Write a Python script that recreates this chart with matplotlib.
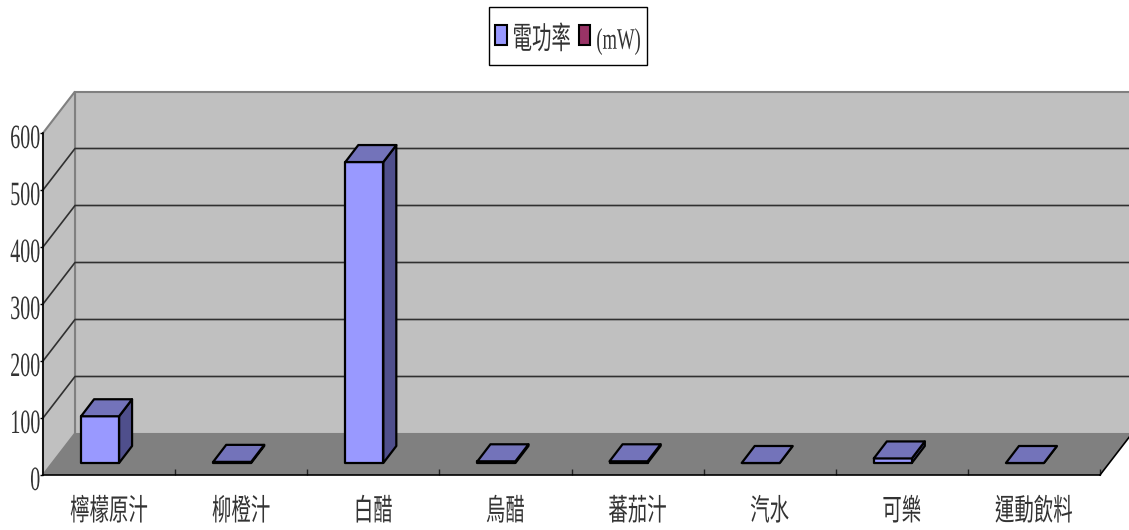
import matplotlib
matplotlib.use('Agg')
import matplotlib.pyplot as plt
from matplotlib.patches import Patch, Polygon, Rectangle
from matplotlib.patheffects import AbstractPathEffect
from matplotlib.transforms import Affine2D

plt.rcParams['font.family'] = ['Noto Sans CJK TC', 'DejaVu Sans']

categories = ['檸檬原汁', '柳橙汁', '白醋', '烏醋', '蕃茄汁', '汽水', '可樂', '運動飲料']
power = [82, 2, 528, 3, 3, 0, 8, 0]
series_names = ['電功率', '(mW)']
y_ticks = [0, 100, 200, 300, 400, 500, 600]

W, H = 1129, 530
px_x = 1057 / 8     # pixels per category
px_y = 342 / 600    # pixels per unit


class TallText(AbstractPathEffect):
    # the original font is a squeezed one, so stretch the glyphs upward
    def __init__(self, sy, dy=0):
        super().__init__()
        self.sy = sy
        self.dy = dy

    def draw_path(self, renderer, gc, tpath, affine, rgbFace=None):
        stretched = Affine2D().scale(1, self.sy) + affine + Affine2D().translate(0, self.dy)
        renderer.draw_path(gc, tpath, stretched, rgbFace)


def shift(x, y, dx_px, dy_px):
    # move a data point back into the 3d box, offset given in pixels
    return x + dx_px / px_x, y + dy_px / px_y


fig = plt.figure(figsize=(W / 100, H / 100), dpi=100)
ax = fig.add_axes([43 / W, (H - 475) / H, 1057 / W, 342 / H])
ax.set_xlim(-0.5, 7.5)
ax.set_ylim(0, 600)
ax.patch.set_visible(False)

wall_dx, wall_dy = 32, 41.5
x0, x1 = -0.5, 7.5


def poly(points, **kw):
    ax.add_patch(Polygon(points, closed=True, clip_on=False, **kw))


# walls and floor
poly([shift(x0, 0, wall_dx, wall_dy), shift(x1, 0, wall_dx, wall_dy),
      shift(x1, 600, wall_dx, wall_dy), shift(x0, 600, wall_dx, wall_dy)],
     facecolor='#C0C0C0', edgecolor='#808080', lw=1.5, zorder=1)
poly([(x0, 0), shift(x0, 0, wall_dx, wall_dy), shift(x0, 600, wall_dx, wall_dy), (x0, 600)],
     facecolor='#C0C0C0', edgecolor='#808080', lw=1.5, zorder=1)
poly([(x0, 0), (x1, 0), shift(x1, 0, wall_dx, wall_dy), shift(x0, 0, wall_dx, wall_dy)],
     facecolor='#808080', edgecolor='none', zorder=1.5)
ax.plot([x1, shift(x1, 0, wall_dx, wall_dy)[0]], [0, shift(x1, 0, wall_dx, wall_dy)[1]],
        color='black', lw=1.2, clip_on=False, zorder=2)

# gridlines on the walls
for v in y_ticks[1:-1]:
    bx, by = shift(x0, v, wall_dx, wall_dy)
    ex, ey = shift(x1, v, wall_dx, wall_dy)
    ax.plot([x0, bx, ex], [v, by, ey], color='#303030', lw=1.2, clip_on=False, zorder=2)

# bars
bar_left = -37 / px_x
bar_width = 38 / px_x
fdx, fdy = 9, 12     # front face inside the box
bdx, bdy = 22, 29    # back face

for i, val in enumerate(power):
    l, r = i + bar_left, i + bar_left + bar_width
    a = shift(l, 0, fdx, fdy)
    b = shift(r, 0, fdx, fdy)
    c = shift(r, val, fdx, fdy)
    d = shift(l, val, fdx, fdy)
    e = shift(r, 0, bdx, bdy)
    f = shift(r, val, bdx, bdy)
    g = shift(l, val, bdx, bdy)
    style = dict(edgecolor='black', lw=1.6, joinstyle='round', zorder=3)
    poly([b, e, f, c], facecolor='#4F4F8C', **style)
    poly([a, b, c, d], facecolor='#9999FF', **style)
    poly([d, c, f, g], facecolor='#7373BA', **style)

# axes
for side in ['top', 'right']:
    ax.spines[side].set_visible(False)
for side in ['left', 'bottom']:
    ax.spines[side].set_linewidth(1.2)
    ax.spines[side].set_zorder(4)

ax.set_yticks(y_ticks)
ax.set_yticklabels([str(v) for v in y_ticks], family=['Liberation Serif'], fontsize=14.4,
                   color='#333333')
ax.tick_params(axis='y', length=2, width=1, pad=0)
for t in ax.get_yticklabels():
    t.set_path_effects([TallText(1.7, -8)])

ax.set_xticks(range(len(categories)))
ax.set_xticklabels(categories, fontsize=14, color='#333333')
ax.tick_params(axis='x', length=0, pad=21)
for t in ax.get_xticklabels():
    t.set_path_effects([TallText(1.55)])
ax.set_xticks([k - 0.5 for k in range(1, 9)], minor=True)
ax.tick_params(axis='x', which='minor', direction='in', length=4.5, width=1, color='#222222')

# legend
handles = [Patch(facecolor='#9999FF', edgecolor='black', lw=1.5),
           Patch(facecolor='#993366', edgecolor='black', lw=1.5)]
leg = fig.legend(handles, series_names, loc='center', bbox_to_anchor=(568 / W, (H - 36) / H),
                 ncol=2, fontsize=14, frameon=False, handlelength=0.6, handleheight=1.2,
                 handletextpad=0.3, columnspacing=0.4, borderpad=0, borderaxespad=0)
for t in leg.get_texts():
    t.set_color('#333333')
    t.set_path_effects([TallText(1.6, -7)])
leg.get_texts()[1].set_family(['Liberation Serif'])
leg.get_texts()[1].set_fontsize(13.4)
fig.add_artist(Rectangle((488.5 / W, (H - 65) / H), 158 / W, 58 / H, transform=fig.transFigure,
                         facecolor='none', edgecolor='black', lw=1))

fig.savefig('out.png', dpi=100)
